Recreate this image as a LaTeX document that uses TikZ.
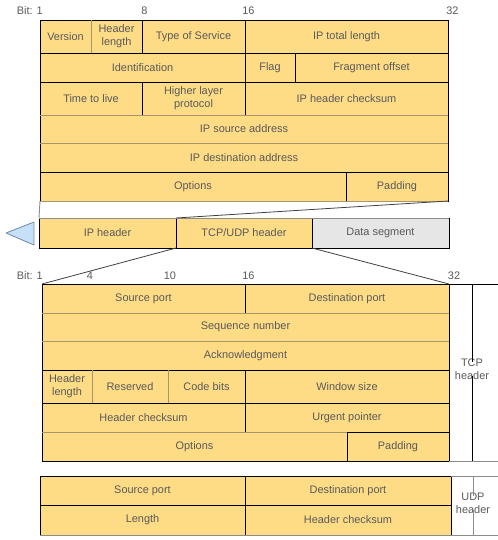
\documentclass[tikz,border=0pt]{standalone}
\usepackage{fontspec}
\setmainfont{Liberation Sans}
\definecolor{cy}{HTML}{FEDC86}
\definecolor{txt}{HTML}{595959}
\definecolor{dseg}{HTML}{E6E6E6}
\definecolor{tri}{HTML}{C6E0FA}
\definecolor{trid}{HTML}{6F8AA6}
\definecolor{softc}{HTML}{A8976A}
\tikzset{
  cell/.style={draw=black, fill=cy, line width=0.7pt, inner sep=0pt, outer sep=0pt,
    align=center, text=txt, font=\fontsize{8.2}{9.8}\selectfont},
  lbl/.style={text=txt, inner sep=0pt, align=center, font=\fontsize{8.2}{9.8}\selectfont},
  conn/.style={draw=black!75, line width=0.6pt},
  soft/.style={draw=softc, line width=0.7pt},
  greyline/.style={draw=black!45, line width=0.7pt},
  trishape/.style={draw=trid, fill=tri, line width=0.6pt, line join=round},
}
\newcommand\cellbox[7][]{%
  \node[cell,#1,minimum width={(#5-#3)*0.75pt},minimum height={(#6-#4)*0.75pt}]
    (#2) at ({(#3+#5)/2},{(#4+#6)/2}) {#7};}
\begin{document}
\begin{tikzpicture}[x=0.75pt,y=-0.75pt]
\useasboundingbox (0,0) rectangle (498,540);
% ---------- IP header ----------
\node[lbl,anchor=east] (ipb1) at (43,11) {Bit: 1};
\node[lbl,anchor=west] (ipb8) at (141,11) {8};
\node[lbl,anchor=west] (ipb16) at (242,11) {16};
\node[lbl,anchor=west] (ipb32) at (446,11) {32};
\cellbox{ver}{40}{20}{91}{53}{Version}
\cellbox{hl}{91}{20}{142}{53}{Header\\length}
\cellbox{tos}{142}{20}{245}{53}{Type of Service}
\cellbox{tl}{245}{20}{448}{53}{IP total length}
\cellbox{iden}{40}{53}{245}{82}{Identification}
\cellbox{flag}{245}{53}{295}{82}{Flag}
\cellbox{fo}{295}{53}{448}{82}{Fragment offset}
\cellbox{ttl}{40}{82}{142}{115}{Time to live}
\cellbox{hlp}{142}{82}{245}{115}{Higher layer\\protocol}
\cellbox{ipchk}{245}{82}{448}{115}{IP header checksum}
\cellbox{src}{40}{115}{448}{143}{IP source address}
\cellbox{dst}{40}{143}{448}{172}{IP destination address}
\cellbox{ipopt}{40}{172}{346}{201}{Options}
\cellbox{ippad}{346}{172}{448}{201}{Padding}
\draw[soft] (ver.north east) -- (ver.south east);
\draw[soft] (src.north west) -- (src.north east);
\draw[soft] (dst.north west) -- (dst.north east);
\draw[soft] (ipopt.south west) -- (ippad.south east);
% ---------- packet bar ----------
\cellbox{iph}{39}{218}{176}{248}{IP header}
\cellbox{tuh}{176}{218}{312}{248}{TCP/UDP header}
\cellbox[fill=dseg]{data}{312}{218}{449}{248}{Data segment}
\draw[greyline] (iph.north west) -- (data.north east);
\draw[trishape] (6,233) -- (34,222) -- (34,245) -- cycle;
\draw[greyline] (ipopt.south west) -- (iph.north west);
\draw[conn] (ippad.south east) -- (tuh.north west);
% ---------- TCP header ----------
\node[lbl,anchor=east] (tb1) at (43,276) {Bit: 1};
\node[lbl] (tb4) at (90,276) {4};
\node[lbl] (tb10) at (170,276) {10};
\node[lbl,anchor=west] (tb16) at (242,276) {16};
\node[lbl] (tb32) at (454,276) {32};
\cellbox{sp}{42}{284}{245}{313}{Source port}
\cellbox{dp}{245}{284}{449}{313}{Destination port}
\cellbox{seq}{42}{313}{449}{341}{Sequence number}
\cellbox{ack}{42}{341}{449}{370}{Acknowledgment}
\cellbox{thl}{42}{370}{92}{403}{Header\\length}
\cellbox{res}{92}{370}{168}{403}{Reserved}
\cellbox{code}{168}{370}{245}{403}{Code bits}
\cellbox{win}{245}{370}{449}{403}{Window size}
\cellbox{tchk}{42}{403}{245}{432}{Header checksum}
\cellbox{urg}{245}{403}{449}{432}{Urgent pointer}
\cellbox{topt}{42}{432}{347}{461}{Options}
\cellbox{tpad}{347}{432}{449}{461}{Padding}
\draw[soft] (seq.north west) -- (seq.north east);
\draw[soft] (ack.north west) -- (ack.north east);
\draw[soft] (res.north east) -- (res.south east);
\draw[soft] (thl.north east) -- (thl.south east);
\draw[soft] (topt.north west) -- (topt.north east);
\draw[conn] (tuh.south west) -- (sp.north west);
\draw[conn] (tuh.south east) -- (dp.north east);
% ---------- UDP header ----------
\cellbox{usp}{40}{476}{245}{505}{Source port}
\cellbox{udp}{245}{476}{451}{505}{Destination port}
\cellbox{ulen}{40}{505}{245}{535}{Length}
\cellbox{uchk}{245}{505}{451}{535}{Header checksum}
\draw[greyline] (ulen.south west) -- (uchk.south east);
% ---------- brackets ----------
\coordinate (tA) at (498,284);
\coordinate (tB) at (498,461);
\coordinate (tT) at (472,284);
\coordinate (tU) at (472,461);
\node[lbl] (tcplbl) at (472,369) {TCP\\header};
\draw[draw=black, line width=0.7pt] (dp.north east) -- (tA);
\draw[draw=black, line width=0.7pt] (tT) -- ([yshift=-3pt]tcplbl.north);
\draw[draw=black, line width=0.7pt] ([yshift=3pt]tcplbl.south) -- (tU);
\draw[greyline] (tpad.south east) -- (tB);
\coordinate (uA) at (498,476);
\coordinate (uB) at (498,535);
\coordinate (uT) at (473,476);
\coordinate (uU) at (473,535);
\node[lbl] (udplbl) at (473,503) {UDP\\header};
\draw[greyline] (udp.north east) -- (uA);
\draw[greyline] (uchk.south east) -- (uB);
\draw[greyline] (uT) -- ([yshift=-3pt]udplbl.north);
\draw[greyline] ([yshift=3pt]udplbl.south) -- (uU);
\end{tikzpicture}
\end{document}
